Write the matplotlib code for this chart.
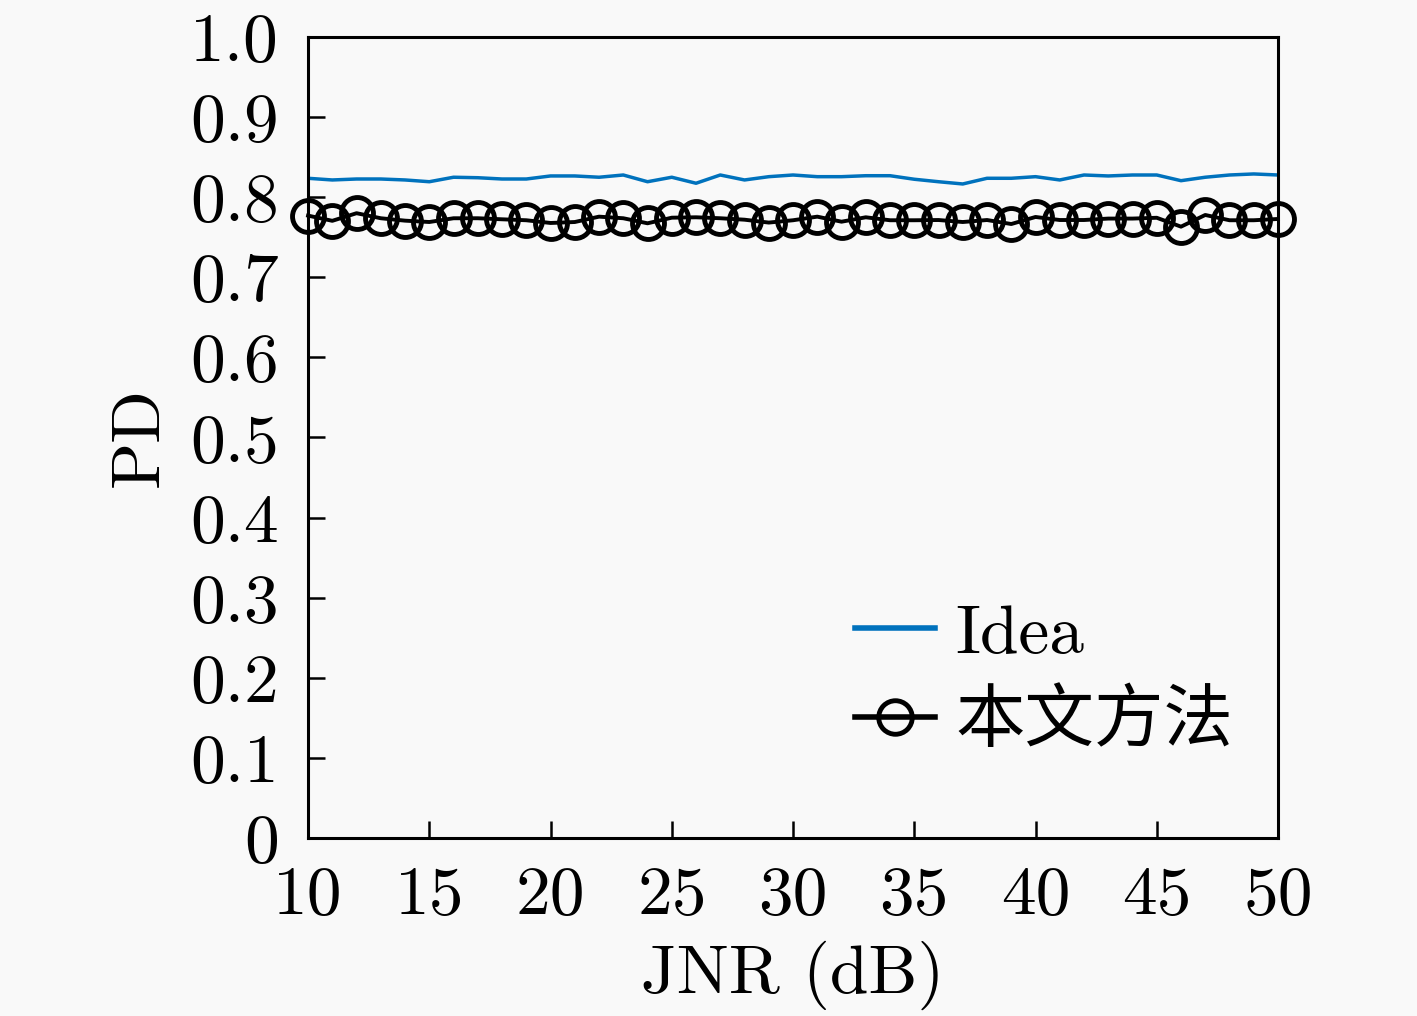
import matplotlib
matplotlib.use("Agg")
import matplotlib.pyplot as plt
import numpy as np

plt.rcParams['font.family'] = ['cmr10', 'Noto Sans CJK SC', 'DejaVu Sans']
plt.rcParams['mathtext.fontset'] = 'cm'
plt.rcParams['axes.unicode_minus'] = False

jnr = list(range(10, 51))
pd_idea = [0.8236, 0.8215, 0.8227, 0.8227, 0.8215, 0.8193, 0.8249, 0.8243, 0.8227, 0.8227,
           0.8265, 0.8265, 0.8249, 0.8277, 0.8193, 0.8249, 0.8174, 0.8277, 0.8215, 0.8256,
           0.8277, 0.8256, 0.8256, 0.8268, 0.8268, 0.8224, 0.8193, 0.8165, 0.8236, 0.8236,
           0.8256, 0.8215, 0.8277, 0.8265, 0.8277, 0.8277, 0.8206, 0.8249, 0.8277, 0.8290,
           0.8277]
pd_method = [0.7770, 0.7705, 0.7800, 0.7737, 0.7707, 0.7690, 0.7737, 0.7737, 0.7724, 0.7712,
             0.7678, 0.7690, 0.7757, 0.7737, 0.7674, 0.7744, 0.7749, 0.7737, 0.7719, 0.7683,
             0.7712, 0.7757, 0.7694, 0.7749, 0.7712, 0.7712, 0.7715, 0.7690, 0.7715, 0.7665,
             0.7753, 0.7715, 0.7715, 0.7733, 0.7733, 0.7743, 0.7632, 0.7778, 0.7712, 0.7712,
             0.7728]
xticks = [10, 15, 20, 25, 30, 35, 40, 45, 50]
yticks = [0, 0.1, 0.2, 0.3, 0.4, 0.5, 0.6, 0.7, 0.8, 0.9, 1.0]
ytick_labels = ['0', '0.1', '0.2', '0.3', '0.4', '0.5', '0.6', '0.7', '0.8', '0.9', '1.0']
legend_labels = ['Idea', '本文方法']

bg = '#f9f9f9'
fs = 50
fig = plt.figure(figsize=(14.17, 10.16), dpi=100, facecolor=bg)
ax = fig.add_axes([0.2174, 0.1752, 0.9019 - 0.2174, 0.9636 - 0.1752])
ax.set_facecolor(bg)

ax.plot(jnr, pd_idea, color='#0072BD', lw=2.5, label=legend_labels[0])
ax.plot(jnr, pd_method, color='black', lw=2.8, marker='o', markersize=23,
        markerfacecolor='none', markeredgewidth=3.5, label=legend_labels[1], clip_on=False)

ax.set_xlim(10, 50)
ax.set_ylim(0, 1.0)
ax.set_xticks(xticks)
ax.set_xticklabels([str(t) for t in xticks])
ax.set_yticks(yticks)
ax.set_yticklabels(ytick_labels)
ax.tick_params(direction='in', length=12, width=1.8, labelsize=fs,
               top=False, right=False)
ax.tick_params(axis='x', pad=20)
ax.tick_params(axis='y', pad=21)
for s in ax.spines.values():
    s.set_linewidth(2.2)

ax.set_xlabel('JNR (dB)', fontsize=fs, labelpad=10)
ax.set_ylabel('PD', fontsize=fs, labelpad=14)

leg = ax.legend(loc='upper left', bbox_to_anchor=(855 / 1417, 1 - 604 / 1016),
                bbox_transform=fig.transFigure, frameon=False, borderpad=0,
                borderaxespad=0, fontsize=fs, handlelength=1.15, handletextpad=0.3,
                labelspacing=0.34, markerscale=1.05)
for h in leg.legend_handles:
    h.set_linewidth(4.0)

fig.savefig('out.png', dpi=100, facecolor=bg)
